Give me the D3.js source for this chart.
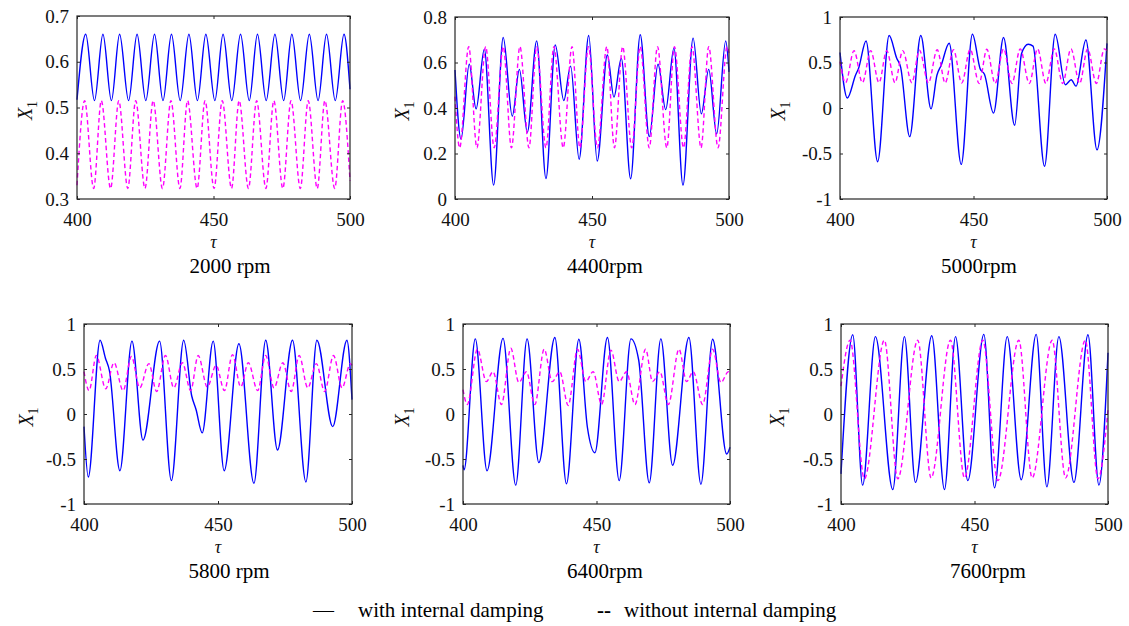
<!DOCTYPE html>
<html>
<head>
<meta charset="utf-8">
<script src="https://cdnjs.cloudflare.com/ajax/libs/d3/7.8.5/d3.min.js"></script>
<style>
    body { margin: 0; background: #fff; }
    text { font-family: "Liberation Serif", "Times New Roman", serif; }
</style>
</head>
<body>
<div id="chart-area"></div>
<script>

// Tick values
var xTicks = [400, 450, 500];
var yTicks2000 = [0.3, 0.4, 0.5, 0.6, 0.7];
var yTicks4400 = [0, 0.2, 0.4, 0.6, 0.8];
var yTicksFull = [-1, -0.5, 0, 0.5, 1];

var speedLabels = ["2000 rpm", "4400rpm", "5000rpm", "5800 rpm", "6400rpm", "7600rpm"];
var legendLabels = ["with internal damping", "without internal damping"];

// Response X1 vs tau (turning points + shoulders)
var with2000 = [[400,0.517],[403.2,0.66],[406.4,0.515],[409.5,0.66],[412.6,0.515],[415.6,0.66],[418.9,0.515],[422.0,0.66],[425.2,0.515],[428.4,0.66],[431.5,0.515],[434.6,0.66],[437.8,0.515],[441.0,0.66],[444.1,0.515],[447.2,0.66],[450.5,0.515],[453.5,0.66],[456.7,0.515],[459.9,0.66],[463.1,0.515],[466.1,0.66],[469.3,0.515],[472.5,0.66],[475.7,0.515],[478.7,0.66],[481.9,0.515],[485.1,0.66],[488.3,0.515],[491.4,0.66],[494.6,0.515],[497.8,0.66],[500,0.54]];
var without2000 = [[400,0.33],[402.8,0.515],[406.1,0.323],[408.9,0.515],[412.3,0.323],[415.3,0.515],[418.6,0.323],[421.5,0.515],[424.9,0.323],[427.9,0.515],[431.3,0.323],[434.4,0.515],[437.7,0.323],[440.5,0.515],[444.0,0.323],[446.9,0.515],[450.2,0.323],[453.2,0.515],[456.6,0.323],[459.4,0.515],[462.8,0.323],[465.8,0.515],[469.2,0.323],[472.1,0.515],[475.4,0.323],[478.4,0.515],[481.8,0.323],[484.7,0.515],[488.0,0.323],[490.8,0.515],[494.4,0.323],[497.3,0.515],[500,0.34]];

var with4400 = [[400,0.567],[402.2,0.263],[405.2,0.592],[407.7,0.396],[410.7,0.658],[414.1,0.061],[417.6,0.71],[420.9,0.364],[423.5,0.57],[426.4,0.293],[429.8,0.695],[433.2,0.09],[436.6,0.677],[439.7,0.433],[442.2,0.584],[445.3,0.175],[448.8,0.719],[451.9,0.167],[455.6,0.633],[458.0,0.448],[460.7,0.618],[464.1,0.089],[467.6,0.722],[470.9,0.274],[474.1,0.592],[476.9,0.393],[479.9,0.663],[483.2,0.061],[486.9,0.707],[489.9,0.374],[492.6,0.57],[495.5,0.286],[498.8,0.695],[500,0.559]];
var without4400 = [[400,0.45],[401.7,0.225],[405.0,0.67],[408.0,0.225],[411.2,0.67],[414.3,0.225],[417.6,0.67],[420.6,0.225],[423.7,0.67],[427.0,0.225],[429.8,0.67],[433.2,0.225],[436.1,0.67],[439.5,0.225],[442.7,0.67],[445.6,0.225],[448.7,0.67],[452.0,0.225],[455.4,0.67],[458.2,0.225],[461.2,0.67],[464.5,0.225],[467.6,0.67],[470.9,0.225],[473.9,0.67],[477.3,0.225],[480.1,0.67],[483.4,0.225],[486.5,0.67],[489.8,0.225],[492.6,0.67],[496.0,0.225],[499.3,0.67],[500,0.64]];

var with5000 = [[400,0.61],[402.75,0.11],[405.8,0.36],[407,0.44],[409.75,0.737],[414.1,-0.59],[418.4,0.796],[421.2,0.55],[422.7,0.45],[426.1,-0.315],[430.25,0.796],[434.1,-0.01],[436.3,0.36],[437.9,0.47],[440.9,0.711],[445.4,-0.62],[449.6,0.81],[452.5,0.43],[454.1,0.37],[457.5,-0.056],[461.25,0.774],[465.4,-0.19],[468.0,0.6],[470.5,0.7],[472.3,0.68],[476.6,-0.64],[480.6,0.81],[484.4,0.256],[486.6,0.31],[488.4,0.24],[492.1,0.748],[496.25,-0.46],[500,0.71]];
var without5000 = [[400,0.51],[402.1,0.278],[405.25,0.63],[408.4,0.278],[411.5,0.63],[414.6,0.278],[417.5,0.63],[420.6,0.278],[423.5,0.63],[426.9,0.278],[429.75,0.635],[433.1,0.275],[436.4,0.64],[439.4,0.275],[442.5,0.64],[445.6,0.275],[448.75,0.645],[452.1,0.27],[455,0.645],[458.1,0.27],[461.25,0.65],[464.4,0.27],[467.5,0.65],[470.9,0.27],[474,0.65],[477.1,0.27],[480.25,0.65],[483.4,0.27],[486.5,0.65],[489.75,0.27],[492.75,0.65],[496,0.27],[499,0.65],[500,0.63]];

var with5800 = [[400,-0.14],[401.6,-0.70],[406.0,0.82],[408.0,0.62],[409.5,0.48],[413.4,-0.63],[417.9,0.81],[422.0,-0.29],[428.2,0.81],[432.6,-0.74],[437.2,0.82],[440.2,0.2],[441.8,0.05],[444.1,-0.21],[448.2,0.81],[452.3,-0.63],[457.8,0.78],[463.4,-0.77],[467.8,0.82],[472.2,-0.40],[477.8,0.82],[482.8,-0.755],[486.9,0.82],[492.8,-0.14],[498.1,0.82],[500,0.16]];
var without5800 = [[400,0.47],[401.9,0.26],[404.6,0.65],[408.1,0.28],[411.2,0.57],[414.6,0.26],[417.7,0.64],[420.8,0.29],[424.2,0.56],[427.1,0.25],[430.4,0.65],[433.5,0.29],[436.7,0.57],[439.8,0.26],[442.6,0.65],[446.0,0.30],[449.3,0.54],[452.4,0.26],[455.4,0.66],[458.5,0.30],[461.3,0.57],[464.8,0.26],[467.8,0.65],[470.9,0.29],[474.2,0.57],[477.3,0.25],[480.3,0.65],[483.5,0.29],[486.7,0.56],[489.8,0.25],[493.1,0.65],[496.3,0.29],[499.4,0.56],[500,0.54]];

var with6400 = [[400,-0.57],[400.4,-0.62],[404.6,0.835],[409.0,-0.63],[415.0,0.84],[419.75,-0.79],[424.0,0.835],[428.4,-0.54],[434.4,0.85],[438.75,-0.775],[443.4,0.83],[446.6,-0.15],[449.4,-0.43],[454.1,0.85],[458.5,-0.74],[462.9,0.835],[465.8,0.6],[469.75,-0.765],[474.1,0.835],[478.5,-0.57],[484.6,0.85],[489.1,-0.78],[493.5,0.83],[498.75,-0.445],[500,-0.37]];
var without6400 = [[400,0.27],[401.6,0.105],[405.4,0.72],[408.75,0.36],[411.25,0.47],[414.4,0.105],[417.9,0.73],[420.9,0.35],[423.75,0.47],[426.9,0.105],[430.4,0.72],[433.4,0.36],[436.25,0.47],[439.4,0.095],[442.9,0.72],[446,0.36],[448.75,0.47],[451.9,0.105],[455.4,0.71],[458.5,0.36],[461.25,0.47],[464.4,0.105],[468.4,0.72],[471,0.36],[473.75,0.47],[476.9,0.105],[480.9,0.72],[483.75,0.36],[486.25,0.47],[489.75,0.105],[493.5,0.72],[496.6,0.35],[499.4,0.47],[500,0.455]];

var with7600 = [[400,-0.665],[404.4,0.88],[408.1,-0.79],[412.9,0.86],[419.4,-0.84],[423.75,0.86],[427.9,-0.76],[434.0,0.87],[438.75,-0.84],[442.9,0.86],[447.5,-0.74],[453.5,0.885],[457.5,-0.82],[462.25,0.86],[467.5,-0.73],[473.1,0.885],[477.1,-0.81],[481.6,0.86],[487.25,-0.76],[492.5,0.88],[496.6,-0.79],[500,0.68]];
var without7600 = [[400,0.31],[403.4,0.82],[408.75,-0.72],[416.25,0.82],[421.25,-0.72],[428.75,0.82],[433.75,-0.71],[441,0.82],[446.25,-0.71],[453.1,0.82],[458.75,-0.74],[466.6,0.82],[471.6,-0.71],[479.1,0.82],[484.1,-0.71],[491.5,0.82],[496.25,-0.72],[500,0.05]];

var panels = [
    {title: speedLabels[0], withD: with2000, withoutD: without2000, yDomain: [0.3, 0.7], yTicks: yTicks2000,
        left: 77, top: 16, right: 350, bottom: 199, titleX: 230, yLabelX: 25},
    {title: speedLabels[1], withD: with4400, withoutD: without4400, yDomain: [0, 0.8], yTicks: yTicks4400,
        left: 455, top: 17, right: 729, bottom: 199, titleX: 605, yLabelX: 402},
    {title: speedLabels[2], withD: with5000, withoutD: without5000, yDomain: [-1, 1], yTicks: yTicksFull,
        left: 840, top: 17, right: 1107, bottom: 199, titleX: 979, yLabelX: 778},
    {title: speedLabels[3], withD: with5800, withoutD: without5800, yDomain: [-1, 1], yTicks: yTicksFull,
        left: 84, top: 324, right: 352, bottom: 504, titleX: 229, yLabelX: 26},
    {title: speedLabels[4], withD: with6400, withoutD: without6400, yDomain: [-1, 1], yTicks: yTicksFull,
        left: 463, top: 324, right: 730, bottom: 504, titleX: 605, yLabelX: 402},
    {title: speedLabels[5], withD: with7600, withoutD: without7600, yDomain: [-1, 1], yTicks: yTicksFull,
        left: 841, top: 324, right: 1108, bottom: 504, titleX: 988, yLabelX: 777}
];

var svg = d3.select("#chart-area").append("svg")
    .attr("width", 1129)
    .attr("height", 626);

var axisColor = "#262626";
var fontFamily = "'Liberation Serif', 'Times New Roman', serif";

panels.forEach(function(p) {

    var x = d3.scaleLinear().domain([400, 500]).range([p.left, p.right]);
    var y = d3.scaleLinear().domain(p.yDomain).range([p.bottom, p.top]);

    var line = d3.line()
        .x(function(d) { return x(d[0]); })
        .y(function(d) { return y(d[1]); })
        .curve(d3.curveMonotoneX);

    var g = svg.append("g").attr("class", "panel");

    // white background box
    g.append("rect")
        .attr("x", p.left)
        .attr("y", p.top)
        .attr("width", p.right - p.left)
        .attr("height", p.bottom - p.top)
        .attr("fill", "#fff");

    g.append("path")
        .datum(p.withD)
        .attr("d", line)
        .attr("fill", "none")
        .attr("stroke", "#0000ff")
        .attr("stroke-width", 1.4);

    g.append("path")
        .datum(p.withoutD)
        .attr("d", line)
        .attr("fill", "none")
        .attr("stroke", "#ff00ff")
        .attr("stroke-width", 1.4)
        .attr("stroke-dasharray", "4.5,3");

    // axes with inward ticks on all four sides
    var bottomAxis = g.append("g")
        .attr("transform", "translate(0," + p.bottom + ")")
        .call(d3.axisBottom(x).tickValues(xTicks).tickSize(-3).tickSizeOuter(0).tickPadding(14));
    var topAxis = g.append("g")
        .attr("transform", "translate(0," + p.top + ")")
        .call(d3.axisTop(x).tickValues(xTicks).tickSize(-3).tickSizeOuter(0).tickFormat(""));
    var leftAxis = g.append("g")
        .attr("transform", "translate(" + p.left + ",0)")
        .call(d3.axisLeft(y).tickValues(p.yTicks).tickSize(-3).tickSizeOuter(0).tickPadding(8)
            .tickFormat(function(d) { return String(d); }));
    var rightAxis = g.append("g")
        .attr("transform", "translate(" + p.right + ",0)")
        .call(d3.axisRight(y).tickValues(p.yTicks).tickSize(-3).tickSizeOuter(0).tickFormat(""));

    [bottomAxis, topAxis, leftAxis, rightAxis].forEach(function(a) {
        a.attr("font-family", fontFamily).attr("font-size", 19);
        a.select(".domain").remove();
        a.selectAll(".tick line").attr("stroke", axisColor);
        a.selectAll(".tick text").attr("fill", "#111");
    });

    g.append("rect")
        .attr("x", p.left)
        .attr("y", p.top)
        .attr("width", p.right - p.left)
        .attr("height", p.bottom - p.top)
        .attr("fill", "none")
        .attr("stroke", axisColor)
        .attr("stroke-width", 1.2);

    // axis labels
    g.append("text")
        .attr("x", (p.left + p.right) / 2)
        .attr("y", p.bottom + 49)
        .attr("text-anchor", "middle")
        .attr("font-size", 18)
        .attr("font-style", "italic")
        .attr("fill", "#111")
        .text("τ");

    var yl = g.append("text")
        .attr("transform", "translate(" + p.yLabelX + "," + ((p.top + p.bottom) / 2 + 3) + ") rotate(-90)")
        .attr("text-anchor", "middle")
        .attr("dy", "0.35em")
        .attr("font-size", 20)
        .attr("fill", "#111");
    yl.append("tspan").attr("font-style", "italic").text("X");
    yl.append("tspan").attr("font-size", 14).attr("dy", "0.35em").text("1");

    g.append("text")
        .attr("x", p.titleX)
        .attr("y", p.bottom + 74)
        .attr("text-anchor", "middle")
        .attr("font-size", 21)
        .attr("fill", "#000")
        .text(p.title);
});

// Legend
var legend = svg.append("g").attr("class", "legend").attr("font-size", 21).attr("fill", "#000");
legend.append("text").attr("x", 313).attr("y", 617).text("—");
legend.append("text").attr("x", 358).attr("y", 617).text(legendLabels[0]);
legend.append("text").attr("x", 597).attr("y", 617).attr("font-weight", "bold").text("--");
legend.append("text").attr("x", 624).attr("y", 617).text(legendLabels[1]);

</script>
</body>
</html>
